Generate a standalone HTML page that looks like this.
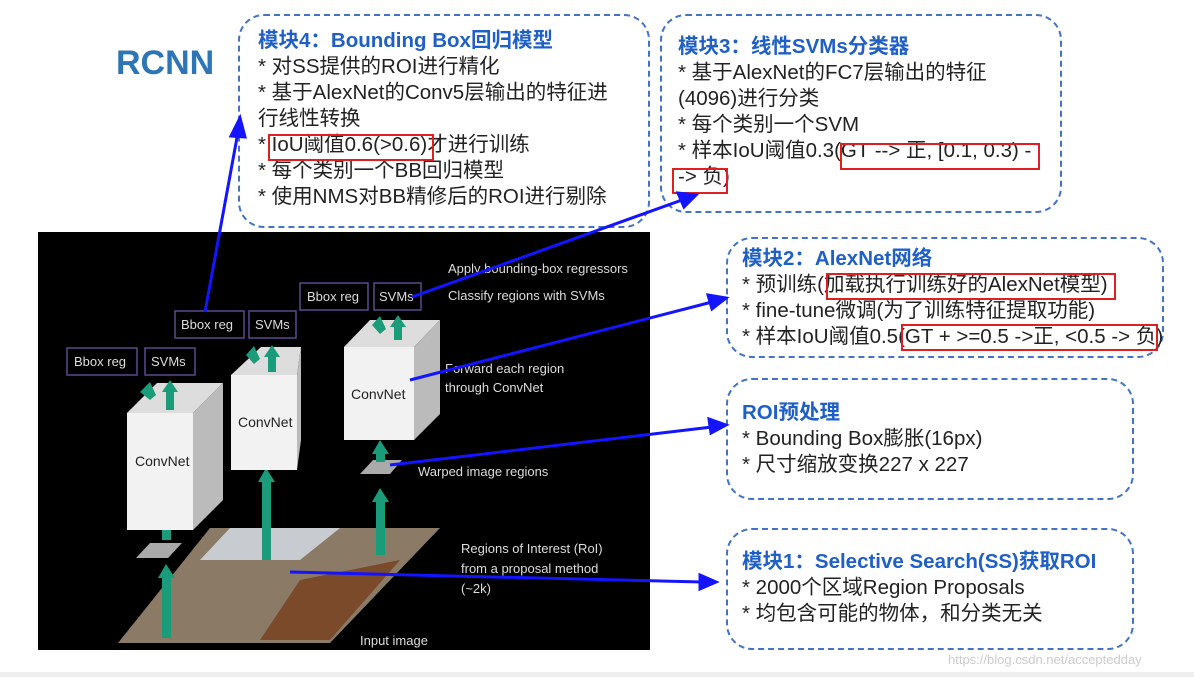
<!DOCTYPE html>
<html><head><meta charset="utf-8"><style>
body{margin:0;width:1194px;height:677px;background:#fff;position:relative;overflow:hidden;font-family:"Liberation Sans","Noto Sans CJK SC",sans-serif}
.box{position:absolute;border:2.5px dashed #4472c4;border-radius:26px;box-sizing:border-box}
.t{position:absolute;font-size:20.5px;color:#222;white-space:nowrap;line-height:26px}
.h{color:#1f5fc8;font-weight:bold}
.r{position:absolute;border:2px solid #e02020;box-sizing:border-box}
</style></head><body>
<div style="position:absolute;left:116px;top:44px;font-size:34px;font-weight:bold;color:#2e75b6">RCNN</div>
<div class="box" style="left:238px;top:14px;width:412px;height:214px"></div>
<div class="box" style="left:660px;top:14px;width:402px;height:199px"></div>
<div class="box" style="left:726px;top:237px;width:438px;height:121px"></div>
<div class="box" style="left:726px;top:378px;width:408px;height:122px"></div>
<div class="box" style="left:726px;top:528px;width:408px;height:122px"></div>

<div class="t" style="left:258px;top:28px"><span class="h">模块4：Bounding Box回归模型</span><br>* 对SS提供的ROI进行精化<br>* 基于AlexNet的Conv5层输出的特征进<br>行线性转换<br>* IoU阈值0.6(&gt;0.6)才进行训练<br>* 每个类别一个BB回归模型<br>* 使用NMS对BB精修后的ROI进行剔除</div>
<div class="r" style="left:268px;top:134px;width:166px;height:27px"></div>

<div class="t" style="left:678px;top:34px"><span class="h">模块3：线性SVMs分类器</span><br>* 基于AlexNet的FC7层输出的特征<br>(4096)进行分类<br>* 每个类别一个SVM<br>* 样本IoU阈值0.3(GT --&gt; 正, [0.1, 0.3) -<br>-&gt; 负)</div>
<div class="r" style="left:840px;top:143px;width:200px;height:27px"></div>
<div class="r" style="left:672px;top:168px;width:56px;height:26px"></div>

<div class="t" style="left:742px;top:246px"><span class="h">模块2：AlexNet网络</span><br>* 预训练(加载执行训练好的AlexNet模型)<br>* fine-tune微调(为了训练特征提取功能)<br>* 样本IoU阈值0.5(GT + &gt;=0.5 -&gt;正, &lt;0.5 -&gt; 负)</div>
<div class="r" style="left:826px;top:273px;width:290px;height:27px"></div>
<div class="r" style="left:901px;top:324px;width:257px;height:27px"></div>

<div class="t" style="left:742px;top:400px"><span class="h">ROI预处理</span><br>* Bounding Box膨胀(16px)<br>* 尺寸缩放变换227 x 227</div>
<div class="t" style="left:742px;top:549px"><span class="h">模块1：Selective Search(SS)获取ROI</span><br>* 2000个区域Region Proposals<br>* 均包含可能的物体，和分类无关</div>

<svg style="position:absolute;left:0;top:0" width="1194" height="677">
<rect x="38" y="232" width="612" height="418" fill="#000"/>
<polygon points="118,643 330,643 440,528 210,528" fill="#8a7a66"/>
<polygon points="200,560 300,560 340,528 230,528" fill="#c8ccd0"/>
<polygon points="260,640 330,640 400,560 300,580" fill="#7a4a2a"/>
<g fill="#aaa"><polygon points="150,543 182,543 168,558 136,558"/><polygon points="248,456 278,456 266,470 236,470"/><polygon points="373,460 402,460 390,474 360,474"/></g>
<g fill="#1a9c7a">
<rect x="162" y="512" width="9" height="28"/><polygon points="158,514 166,500 175,514"/>
<rect x="162" y="576" width="9" height="62"/><polygon points="158,578 166,564 175,578"/>
<rect x="262" y="480" width="9" height="80"/><polygon points="258,482 266,468 275,482"/>
<rect x="376" y="452" width="9" height="10"/><polygon points="372,454 380,440 389,454"/>
<rect x="376" y="500" width="9" height="55"/><polygon points="372,502 380,488 389,502"/>
</g>
<g font-family="Liberation Sans,sans-serif" font-size="14" fill="#222">
<polygon points="127,413 157,383 223,383 193,413" fill="#ddd"/><polygon points="193,413 223,383 223,500 193,530" fill="#bbb"/><rect x="127" y="413" width="66" height="117" fill="#f2f2f2"/><text x="135" y="466">ConvNet</text>
<polygon points="231,375 261,347 301,347 297,375" fill="#ddd"/><polygon points="297,375 301,347 301,440 297,470" fill="#bbb"/><rect x="231" y="375" width="66" height="95" fill="#f2f2f2"/><text x="238" y="427">ConvNet</text>
<polygon points="344,347 370,320 440,320 414,347" fill="#ddd"/><polygon points="414,347 440,320 440,414 414,440" fill="#bbb"/><rect x="344" y="347" width="70" height="93" fill="#f2f2f2"/><text x="351" y="399">ConvNet</text>
</g>
<g fill="#1a9c7a">
<rect x="166" y="390" width="8" height="20"/><polygon points="162,392 170,380 178,392"/>
<rect x="268" y="355" width="8" height="17"/><polygon points="264,357 272,345 280,357"/>
<rect x="394" y="325" width="8" height="15"/><polygon points="390,327 398,315 406,327"/>
<polygon points="140,392 150,382 156,395 150,400" />
<polygon points="246,355 254,346 260,359 254,364" />
<polygon points="372,325 380,316 386,329 380,334" />
</g>
<g fill="none" stroke="#5a4a8a" stroke-width="1.5"><rect x="67" y="348" width="70" height="27"/><rect x="145" y="348" width="50" height="27"/><rect x="175" y="311" width="69" height="27"/><rect x="249" y="311" width="47" height="27"/><rect x="300" y="283" width="68" height="27"/><rect x="374" y="283" width="47" height="27"/></g>
<g font-family="Liberation Sans,sans-serif" font-size="13" fill="#ddd">
<text x="74" y="366">Bbox reg</text><text x="151" y="366">SVMs</text><text x="181" y="329">Bbox reg</text><text x="255" y="329">SVMs</text><text x="307" y="301">Bbox reg</text><text x="379" y="301">SVMs</text>
<text x="448" y="273">Apply bounding-box regressors</text><text x="448" y="300">Classify regions with SVMs</text>
<text x="445" y="373">Forward each region</text><text x="445" y="392">through ConvNet</text>
<text x="418" y="476">Warped image regions</text>
<text x="461" y="553">Regions of Interest (RoI)</text><text x="461" y="573">from a proposal method</text><text x="461" y="593">(~2k)</text>
<text x="360" y="645">Input image</text>
</g>
<g stroke="#1414ff" stroke-width="3" fill="#1414ff">
<line x1="205" y1="312" x2="238" y2="132"/><polygon points="240,118 231,136 245,137"/>
<line x1="412" y1="297" x2="682" y2="200"/><polygon points="696,195 678,193 684,207"/>
<line x1="410" y1="380" x2="712" y2="302"/><polygon points="726,298 708,295 712,309"/>
<line x1="390" y1="465" x2="712" y2="427"/><polygon points="726,425 709,419 711,433"/>
<line x1="290" y1="572" x2="702" y2="582"/><polygon points="716,582 700,575 700,589"/>
</g>
<text x="948" y="664" font-family="Liberation Sans,sans-serif" font-size="13" fill="#ccc">https://blog.csdn.net/acceptedday</text>
<rect x="0" y="672" width="1194" height="5" fill="#eee"/>
</svg>
</body></html>
